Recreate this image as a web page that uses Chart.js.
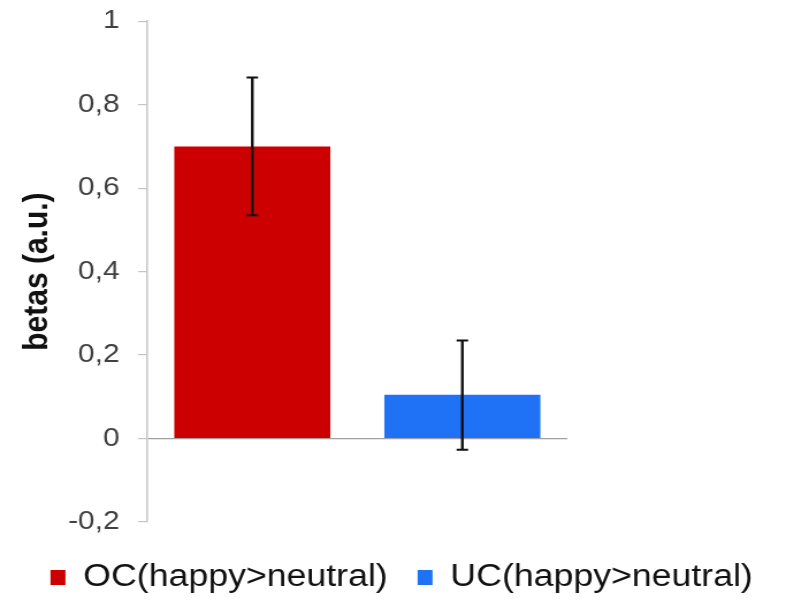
<!DOCTYPE html>
<html lang="en">
<head>
  <meta charset="UTF-8" />
  <title>betas OC / UC</title>
  <script src="https://cdn.jsdelivr.net/npm/chart.js"></script>
  <style>
    body { margin: 0; background: #fff; }
    #chart { display: block; }
  </style>
</head>
<body>
  <!-- the original figure is stretched sideways: draw 683 wide, show it 786 wide -->
  <canvas id="chart" width="683" height="600" style="width:786px;height:600px"></canvas>

  <script>
    const categories = ["OC(happy>neutral)", "UC(happy>neutral)"];
    const betas = [0.70, 0.105];
    const errLow = [0.535, -0.027];
    const errHigh = [0.865, 0.235];
    const barColors = ["#cc0000", "#1f72f6"];
    const yTicks = [-0.2, 0, 0.2, 0.4, 0.6, 0.8, 1];

    const fontFamily = "'Liberation Sans', Arial, sans-serif";

    // one dataset per bar so the legend shows both
    const datasets = categories.map((name, i) => ({
      label: name,
      data: categories.map((c, j) => (j === i ? betas[i] : null)),
      backgroundColor: barColors[i],
      borderWidth: 0,
      barPercentage: 0.743,
      categoryPercentage: 1
    }));

    const errorBars = {
      id: "errorBars",
      afterDatasetsDraw(chart) {
        const ctx = chart.ctx;
        const y = chart.scales.y;
        ctx.save();
        ctx.strokeStyle = "#111";
        chart.data.datasets.forEach((ds, i) => {
          chart.getDatasetMeta(i).data.forEach((bar, j) => {
            if (ds.data[j] == null) return;
            const top = y.getPixelForValue(errHigh[j]);
            const bottom = y.getPixelForValue(errLow[j]);
            ctx.lineWidth = 2.4;
            ctx.beginPath();
            ctx.moveTo(bar.x, top);
            ctx.lineTo(bar.x, bottom);
            ctx.stroke();
            ctx.lineWidth = 2;
            ctx.beginPath();
            ctx.moveTo(bar.x - 5, top);
            ctx.lineTo(bar.x + 5, top);
            ctx.moveTo(bar.x - 5, bottom);
            ctx.lineTo(bar.x + 5, bottom);
            ctx.stroke();
          });
        });
        ctx.restore();
      }
    };

    new Chart(document.getElementById("chart"), {
      type: "bar",
      data: { labels: categories, datasets },
      options: {
        responsive: false,
        animation: false,
        grouped: false,
        layout: { padding: { top: 10, left: 15, right: 0, bottom: -3 } },
        plugins: {
          tooltip: { enabled: false },
          legend: {
            position: "bottom",
            labels: {
              font: { family: fontFamily, size: 31 },
              color: "#111",
              boxWidth: 13,
              boxHeight: 15,
              padding: 26
            }
          }
        },
        scales: {
          // hidden x axis, only a small gap above the legend
          x: {
            display: true,
            afterFit: s => { s.height = 14; },
            border: { display: false },
            grid: { display: false },
            ticks: { display: false }
          },
          y: {
            min: -0.2,
            max: 1,
            afterBuildTicks: s => { s.ticks = yTicks.map(v => ({ value: v })); },
            afterFit: s => { s.width = 113; },
            border: { display: true, color: "#c4c4c4", width: 1.5 },
            grid: {
              color: c => (c.tick && c.tick.value === 0 ? "#a0a0a0" : "transparent"),
              tickColor: "#c4c4c4",
              tickLength: 8,
              lineWidth: 1.2
            },
            ticks: {
              padding: 16,
              color: "#404040",
              font: { family: fontFamily, size: 26, lineHeight: 0.4 },
              callback: v => String(Math.round(v * 10) / 10).replace(".", ",")
            },
            title: {
              display: true,
              text: "betas (a.u.)",
              color: "#111",
              padding: 0,
              font: { family: fontFamily, size: 30, weight: "bold" }
            }
          },
          // empty axis on the right, only keeps the plot narrow like the original
          yRight: {
            position: "right",
            display: true,
            afterFit: s => { s.width = 190; },
            border: { display: false },
            grid: { display: false },
            ticks: { display: false }
          }
        }
      },
      plugins: [errorBars]
    });
  </script>
</body>
</html>
